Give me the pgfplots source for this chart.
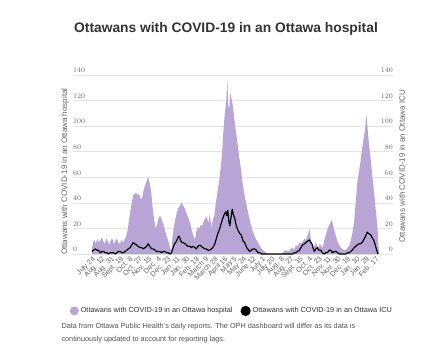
\documentclass[border=0pt]{standalone}
\usepackage{fontspec}
\setmainfont{Liberation Sans}
\usepackage{pgfplots}
\usepackage{pgfplotstable}
\pgfplotsset{compat=1.18}
\definecolor{hosp}{RGB}{184,165,213}
\definecolor{ttl}{RGB}{51,51,51}
\definecolor{tk}{RGB}{100,100,100}
\definecolor{gr}{RGB}{228,228,228}
\definecolor{fn}{RGB}{80,80,80}

\pgfplotstableread{
day val
0 4
2 9
5 11
8 8
11 12
14 9
17 11
20 13
23 10
26 8
29 12
32 10
35 7
38 11
41 12
44 8
47 10
50 12
53 9
56 8
59 11
62 9
65 11
68 13
71 17
74 25
77 33
80 40
83 46
86 47
89 48
92 46
95 47
98 43
101 44
104 50
107 54
110 57
113 60
116 56
119 49
122 36
125 27
128 20
131 23
134 28
137 30
140 27
143 24
146 20
149 15
152 12
155 8
158 4
160 2
162 14
165 22
168 28
171 33
174 36
177 38
180 40
183 38
186 36
189 33
192 30
195 27
198 23
201 18
204 14
207 11
210 18
213 21
216 20
219 23
222 22
225 26
228 28
231 29
234 24
237 32
240 20
243 27
246 30
249 40
252 48
255 55
258 65
261 76
264 95
267 110
270 120
272 136
274 118
276 112
278 126
280 122
282 119
284 113
286 106
288 100
290 94
293 85
296 76
299 68
302 58
305 50
308 43
311 38
314 32
317 27
320 22
323 18
326 15
329 12
332 10
335 8
338 6
341 4
344 3
347 2
350 1
355 0
380 0
383 1
386 2
390 3
395 2
400 4
403 5
406 3
410 7
413 6
417 9
420 8
424 10
427 12
430 11
433 14
436 18
438 19
440 11
443 7
446 5
449 9
452 7
455 5
458 8
461 6
464 5
467 11
470 15
473 19
476 22
479 24
482 27
485 22
488 17
491 13
494 9
497 7
500 5
503 4
506 3
510 3
514 5
518 7
521 12
524 18
527 26
530 40
533 55
536 63
539 70
542 80
545 88
548 95
550 102
551 110
553 104
555 93
557 85
560 75
563 63
566 52
569 40
572 28
574 20
576 5
577 0
}\hosptable

\pgfplotstableread{
day val
0 2
3 3
7 4
10 3
13 3
17 1
20 2
23 2
27 1
30 1
33 0
37 1
40 1
43 1
47 0
50 1
53 2
57 2
60 1
63 1
67 2
70 3
73 4
77 5
80 7
83 9
86 8
90 7
93 6
97 5
100 5
103 4
107 5
110 6
113 8
116 6
120 4
123 4
127 3
130 2
133 2
137 2
140 1
143 2
147 2
150 1
153 1
157 0
160 1
163 5
166 8
170 10
173 13
175 14
178 11
180 9
183 9
187 8
190 7
193 6
197 6
200 5
203 6
207 5
210 4
213 6
217 7
220 6
223 5
227 4
230 4
233 3
237 3
240 4
243 5
247 8
250 12
253 16
257 20
260 24
263 28
266 31
269 33
271 30
273 34
275 26
277 22
280 30
282 35
284 31
287 28
290 22
293 19
297 16
300 15
304 10
307 9
311 5
313 4
317 2
320 3
324 4
327 4
330 3
334 1
337 1
341 0
403 0
407 1
410 1
413 2
417 3
420 5
423 7
427 8
430 9
433 10
437 11
440 9
442 8
445 4
447 2
450 4
453 5
456 3
460 3
463 1
467 0
470 1
473 1
477 3
480 3
483 1
487 2
490 2
494 1
497 0
510 0
514 1
517 1
520 2
523 3
527 5
530 6
533 7
537 8
540 8
543 9
546 11
550 14
553 17
556 16
560 15
563 13
567 10
570 6
573 2
575 0
}\icutable

\begin{document}
\begin{tikzpicture}
\useasboundingbox (0pt,0pt) rectangle (446pt,351pt);
\node[font=\fontsize{13.8}{16}\selectfont\bfseries, text=ttl] at (226pt,322pt) {Ottawans with COVID-19 in an Ottawa hospital};
\begin{axis}[
  at={(73pt,97pt)}, anchor=south west,
  scale only axis, width=320pt, height=179pt,
  xmin=-38, xmax=605, ymin=0, ymax=140,
  axis x line*=bottom, axis y line*=left,
  axis line style={draw=none},
  major tick length=0pt,
  ytick={0,20,...,140},
  ymajorgrids, grid style={gr, line width=0.7pt},
  yticklabel style={anchor=south west, inner sep=0pt, yshift=2pt, font=\fontsize{7.2}{8}\selectfont, text=tk},
  xtick={0,19,...,570},
  xticklabels={July 24,Aug. 12,Aug. 31,Sept. 19,Oct. 8,Oct. 27,Nov. 15,Dec. 4,Dec. 23,Jan. 11,Jan. 30,Feb. 18,March 9,March 28,April 16,May 5,May 24,June 12,July 1,July 20,Aug. 8,Aug. 27,Sept. 15,Oct. 4,Oct. 23,Nov. 11,Nov. 30,Dec. 19,Jan. 10,Jan. 29,Feb. 17},
  xticklabel style={rotate=45, anchor=north east, inner sep=1pt, font=\fontsize{7.2}{8}\selectfont, text=tk},
  ylabel={Ottawans with COVID-19 in an Ottawa hospital},
  ylabel style={at={(axis description cs:-0.025,0.46)}, anchor=center, font=\fontsize{8}{9}\selectfont, text=tk},
  legend columns=2,
  legend style={at={(axis description cs:-0.02,-0.318)}, anchor=west, draw=none, fill=none, font=\fontsize{7.3}{8}\selectfont, text=ttl, /tikz/every even column/.append style={column sep=6pt}},
  legend cell align=left,
]
\addplot[fill=hosp, draw=none, legend image code/.code={\fill[hosp] (4.5pt,0pt) circle (4.5pt);}] table[x=day,y=val] {\hosptable} \closedcycle;
\addlegendentry{Ottawans with COVID-19 in an Ottawa hospital}
\addplot[black, line width=1.2pt, line join=round, legend image code/.code={\fill[black] (4.5pt,0pt) circle (4.5pt);}] table[x=day,y=val] {\icutable};
\addlegendentry{Ottawans with COVID-19 in an Ottawa ICU}
\end{axis}
\begin{axis}[
  at={(73pt,97pt)}, anchor=south west,
  scale only axis, width=320pt, height=179pt,
  xmin=-38, xmax=605, ymin=0, ymax=140,
  hide x axis,
  axis y line*=right,
  axis line style={draw=none},
  major tick length=0pt,
  ytick={0,20,...,140},
  yticklabel style={anchor=south east, inner sep=0pt, yshift=2pt, font=\fontsize{7.2}{8}\selectfont, text=tk},
  ylabel={Ottawans with COVID-19 in an Ottawa ICU},
  ylabel style={at={(axis description cs:1.028,0.49)}, anchor=center, rotate=0, font=\fontsize{8}{9}\selectfont, text=tk},
]
\end{axis}
\node[anchor=north west, align=left, font=\fontsize{7.3}{13}\selectfont, text=fn] at (58pt,31pt) {Data from Ottawa Public Health's daily reports. The OPH dashboard will differ as its data is\\continuously updated to account for reporting lags.};
\end{tikzpicture}
\end{document}
